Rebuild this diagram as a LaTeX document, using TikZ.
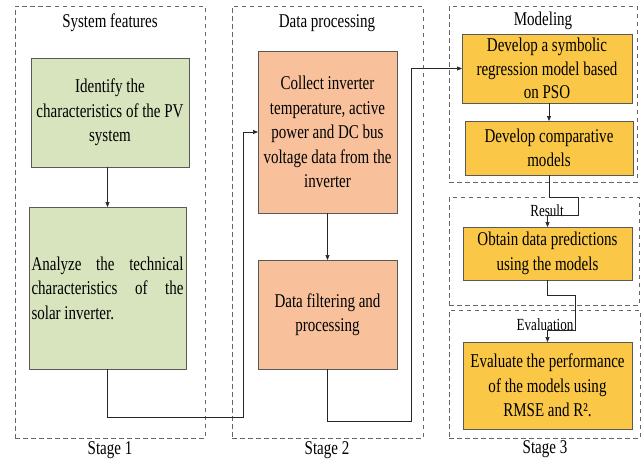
\documentclass[tikz,border=0pt]{standalone}
\usepackage{fontspec}
\setmainfont{Liberation Serif}[FakeStretch=0.77]
\usetikzlibrary{arrows.meta}
\definecolor{gfill}{HTML}{D7E4BD}
\definecolor{ofill}{HTML}{F8C19C}
\definecolor{yfill}{HTML}{FAC846}
\newcommand\boxfont{\fontsize{19.5}{24.5}\selectfont}
\newcommand\tightfont{\fontsize{19.5}{23.5}\selectfont}
\newcommand\smallfont{\fontsize{17}{20}\selectfont}
\begin{document}
\begin{tikzpicture}[x=1pt,y=-1pt,
  stagebox/.style={draw=black!60, dash pattern=on 4.5pt off 3.5pt, line width=0.6pt, inner sep=0pt, outer sep=0pt, anchor=north west},
  proc/.style={draw=black!65, line width=0.7pt, inner sep=0pt, outer sep=0pt, anchor=north west, align=center, font=\boxfont},
  gbox/.style={proc, fill=gfill},
  obox/.style={proc, fill=ofill},
  ybox/.style={proc, fill=yfill},
  title/.style={font=\boxfont, inner sep=0pt},
  subtitle/.style={font=\smallfont, inner sep=0pt},
  arr/.style={draw=black!85, line width=0.7pt, -{Triangle[length=5pt,width=4pt]}}
]
\useasboundingbox (0,0) rectangle (643,461);

% dashed containers
\node[stagebox, minimum width=190pt, minimum height=432pt] (s1) at (15,6) {};
\node[stagebox, minimum width=191pt, minimum height=432pt] (s2) at (232,6) {};
\node[stagebox, minimum width=188pt, minimum height=176pt] (sm) at (449,6) {};
\node[stagebox, minimum width=190pt, minimum height=108pt] (sr) at (449,197) {};
\node[stagebox, minimum width=191pt, minimum height=128pt] (se) at (449,310) {};

% titles
\node[title] (t1) at (110,23) {System features};
\node[title] (t2) at (327,23) {Data processing};
\node[title] (t3) at (543,21) {Modeling};
\node[subtitle] (t4) at (547,211) {Result};
\node[subtitle] (t5) at (545,325) {Evaluation};
\node[title] (l1) at (110,450) {Stage 1};
\node[title] (l2) at (327,450) {Stage 2};
\node[title] (l3) at (545,449) {Stage 3};

% stage 1 boxes
\node[gbox, minimum width=158pt, minimum height=109pt] (g1) at (31,58)
  {Identify the\\characteristics of the PV\\system};
\node[gbox, minimum width=157pt, minimum height=162pt, align=left] (g2) at (29,207)
  {\makebox[152pt][s]{Analyze the technical}\\\makebox[152pt][s]{characteristics of the}\\solar inverter.};

% stage 2 boxes
\node[obox, minimum width=139pt, minimum height=162pt] (o1) at (258,51)
  {Collect inverter\\temperature, active\\power and DC bus\\voltage data from the\\inverter};
\node[obox, minimum width=139pt, minimum height=109pt] (o2) at (258,260)
  {Data filtering and\\processing};

% stage 3 boxes
\node[ybox, minimum width=170pt, minimum height=69pt] (m1) at (462,34) {};
\node[title, align=center, font=\tightfont] (m1t) at (m1.center)
  {Develop a symbolic\\regression model based\\on PSO};
\node[ybox, minimum width=168pt, minimum height=54pt] (m2) at (465,121)
  {Develop comparative\\models};
\node[ybox, minimum width=169pt, minimum height=53pt] (r1) at (463,227)
  {Obtain data predictions\\using the models};
\node[ybox, minimum width=169pt, minimum height=87pt] (e1) at (463,342)
  {Evaluate the performance\\of the models using\\RMSE and R².};

% helper coordinates
\coordinate (k1) at (243,417);
\coordinate (k2) at (411,421);
\coordinate (k3) at (578,197);
\coordinate (k4) at (578,215);
\coordinate (k5) at (575,295);
\coordinate (k6) at (575,330);

% connectors
\draw[arr] (g1.south -| g2.north) -- (g2.north);
\draw[arr] (g2.south) |- (k1) |- (o1.west);
\draw[arr] (o1.south) -- (o2.north);
\draw[arr] (o2.south) |- (k2) |- (m1.west);
\draw[arr] (m1.south -| m2.north) -- (m2.north);
\draw[arr] (m2.south) |- (k3) -- (k4) -| (r1.north);
\draw[arr] (r1.south) |- (k5) -- (k6) -| (e1.north);
\end{tikzpicture}
\end{document}
